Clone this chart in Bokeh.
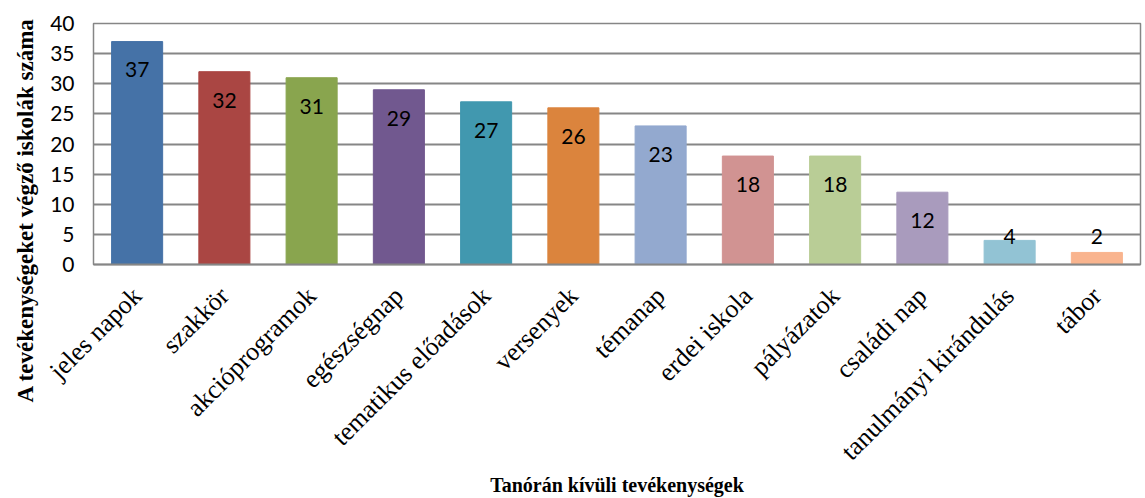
import math
from bokeh.plotting import figure
from bokeh.models import ColumnDataSource, FactorRange, Range1d, FixedTicker, Title
from bokeh.core.properties import value
from bokeh.embed import file_html
from bokeh.resources import INLINE

categories = ["jeles napok", "szakkör", "akcióprogramok", "egészségnap",
              "tematikus előadások", "versenyek", "témanap", "erdei iskola",
              "pályázatok", "családi nap", "tanulmányi kirándulás", "tábor"]
values = [37, 32, 31, 29, 27, 26, 23, 18, 18, 12, 4, 2]
colors = ["#4572A7", "#AA4643", "#89A54E", "#71588F", "#4198AF", "#DB843D",
          "#93A9CF", "#D19392", "#B9CD96", "#A99BBD", "#92C3D4", "#F9B48E"]
y_ticks = [0, 5, 10, 15, 20, 25, 30, 35, 40]
x_title = "Tanórán kívüli tevékenységek"
y_title = "A tevékenységeket végző iskolák száma"

label_y = [max(v - 4.7, 4.6) for v in values]
src = ColumnDataSource(dict(cat=categories, val=values, color=colors,
                            label=[str(v) for v in values], ly=label_y))

W, H = 1145, 498
LEFT, TOP, RIGHT, BOTTOM = 92, 23, 5, 233
p = figure(x_range=FactorRange(factors=categories, range_padding=0),
           y_range=Range1d(0, 40), width=W, height=H,
           output_backend="svg", toolbar_location=None,
           min_border_left=LEFT, min_border_right=RIGHT, min_border_top=TOP,
           min_border_bottom=BOTTOM)

p.vbar(x="cat", top="val", width=0.585, color="color", source=src)
p.text(x="cat", y="ly", text="label", source=src, text_align="center",
       text_baseline="middle", text_font=value("Lato"), text_font_size="21px",
       text_color="#000000")

p.yaxis.ticker = FixedTicker(ticks=y_ticks)
p.yaxis.major_label_text_font = "Lato"
p.yaxis.major_label_text_font_size = "21px"
p.yaxis.major_label_text_color = "#000000"
p.yaxis.major_label_standoff = 19
p.yaxis.major_tick_out = 0
p.yaxis.major_tick_in = 0
p.yaxis.minor_tick_out = 0
p.yaxis.minor_tick_in = 0
p.yaxis.axis_line_color = None

p.xaxis.major_label_orientation = math.pi / 4
p.xaxis.major_label_text_font = "Liberation Serif"
p.xaxis.major_label_text_font_size = "26px"
p.xaxis.major_label_text_color = "#000000"
p.xaxis.major_label_standoff = 27
p.xaxis.major_tick_out = 0
p.xaxis.major_tick_in = 0
p.xaxis.axis_line_color = "#868686"
p.xaxis.axis_line_width = 2
p.xaxis.axis_label = x_title
p.xaxis.axis_label_text_font = "Liberation Serif"
p.xaxis.axis_label_text_font_style = "bold"
p.xaxis.axis_label_text_font_size = "20px"
p.xaxis.axis_label_text_color = "#000000"
p.xaxis.axis_label_standoff = -5

p.add_layout(Title(text=y_title, align="left", offset=-138, standoff=20,
                   vertical_align="bottom", text_font="Liberation Serif",
                   text_font_style="bold", text_font_size="23px",
                   text_color="#000000"), "left")

p.xgrid.grid_line_color = None
p.ygrid.grid_line_color = "#868686"
p.ygrid.grid_line_width = 2
p.outline_line_color = "#868686"
p.outline_line_width = 1.5

open("out.html", "w").write(file_html(p, INLINE))
